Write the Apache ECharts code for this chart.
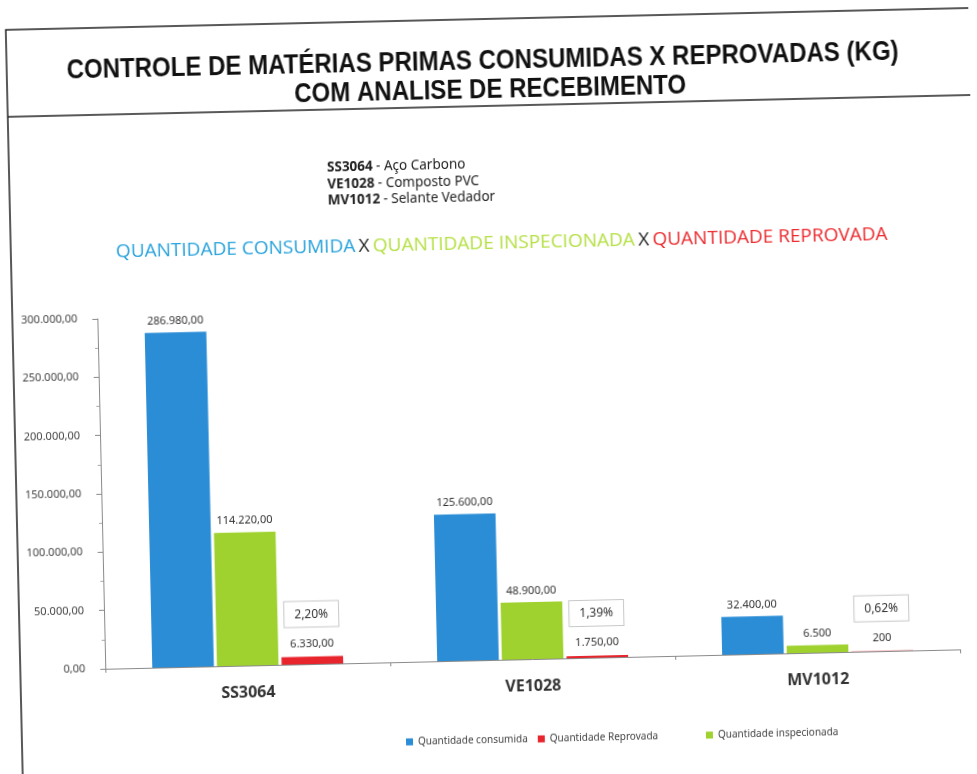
<!DOCTYPE html>
<html><head><meta charset="utf-8">
<script src="https://cdn.jsdelivr.net/npm/echarts@6/dist/echarts.min.js"></script>
<style>html,body{margin:0;padding:0;background:#fff;overflow:hidden}
#c{width:977px;height:774px;transform:rotate(-1.3deg);transform-origin:50% 50%;}
</style></head><body><div id="c"></div>
<script>
const categories = ['SS3064', 'VE1028', 'MV1012'];
const consumida = [286980, 125600, 32400];
const inspecionada = [114220, 48900, 6500];
const reprovada = [6330, 1750, 200];
const percentReprovada = ['2,20%', '1,39%', '0,62%'];
const semDecimais = [false, false, true];
const materiais = [['SS3064', 'Aço Carbono'], ['VE1028', 'Composto PVC'], ['MV1012', 'Selante Vedador']];
const seriesNames = ['Quantidade consumida', 'Quantidade inspecionada', 'Quantidade Reprovada'];

function fmt(v, dec) {
  const s = String(Math.round(v)).replace(/\B(?=(\d{3})+(?!\d))/g, '.');
  return dec ? s + ',00' : s;
}

const BLUE = '#2b8dd6', GREEN = '#9fd22e', RED = '#e8242c';
const chart = echarts.init(document.getElementById('c'), null, {renderer: 'canvas'});
const lblFont = 'Noto Sans';
const legendText = {fontSize: 10, color: '#444', fontFamily: lblFont};

chart.setOption({
  backgroundColor: '#fff',
  animation: false,
  grid: {left: 99, right: 23, top: 310, bottom: 114},
  legend: [
    {data: [seriesNames[0], seriesNames[2]], bottom: 24, left: 393, itemWidth: 7, itemHeight: 7,
     itemGap: 10, icon: 'rect', textStyle: legendText},
    {data: [seriesNames[1]], bottom: 24, left: 693, itemWidth: 7, itemHeight: 7,
     icon: 'rect', textStyle: legendText}
  ],
  xAxis: {
    type: 'category', data: categories,
    axisLine: {lineStyle: {color: '#8a8a8a'}},
    axisTick: {show: true, length: 4, lineStyle: {color: '#8a8a8a'}},
    axisLabel: {fontSize: 16, fontWeight: 'bold', color: '#333', margin: 19, fontFamily: lblFont}
  },
  yAxis: {
    type: 'value', min: 0, max: 300000, interval: 50000,
    axisLine: {show: true, lineStyle: {color: '#8a8a8a'}},
    axisTick: {show: true, length: 5, lineStyle: {color: '#8a8a8a'}},
    minorTick: {show: true, splitNumber: 2, length: 3, lineStyle: {color: '#aaa'}},
    splitLine: {show: false},
    axisLabel: {fontSize: 11, color: '#444', margin: 20, fontFamily: lblFont,
      formatter: v => fmt(v, true)}
  },
  series: [
    {name: seriesNames[0], type: 'bar', data: consumida, barGap: '5%', barCategoryGap: '33%',
     itemStyle: {color: BLUE},
     label: {show: true, position: 'top', distance: 6, fontSize: 11, color: '#333', fontFamily: lblFont,
       formatter: p => fmt(p.value, true)}},
    {name: seriesNames[1], type: 'bar', data: inspecionada, barGap: '5%', barCategoryGap: '33%',
     itemStyle: {color: GREEN},
     label: {show: true, position: 'top', distance: 6, fontSize: 11, color: '#333', fontFamily: lblFont,
       formatter: p => fmt(p.value, !semDecimais[p.dataIndex])}},
    {name: seriesNames[2], type: 'bar', data: reprovada, barGap: '5%', barCategoryGap: '33%',
     itemStyle: {color: RED},
     label: {show: true, position: 'top', distance: 6, fontFamily: lblFont,
       formatter: p => '{p|' + percentReprovada[p.dataIndex] + '}\n{v|' + fmt(p.value, !semDecimais[p.dataIndex]) + '}',
       rich: {
         p: {fontSize: 12, color: '#333', borderColor: '#c8c8c8', borderWidth: 1, backgroundColor: '#fff',
             padding: [7, 10, 6, 10], fontFamily: lblFont},
         v: {fontSize: 11, color: '#333', lineHeight: 24, padding: [10, 0, 0, 0], fontFamily: lblFont}
       }}}
  ],
  graphic: [
    {type: 'rect', shape: {x: 14, y: 19, width: 1100, height: 900},
     style: {fill: 'none', stroke: '#222', lineWidth: 1.5}, z: -1},
    {type: 'line', shape: {x1: 14, y1: 106, x2: 1100, y2: 106}, style: {stroke: '#222', lineWidth: 1.5}},
    {type: 'text', x: 490, y: 62, scaleX: 0.89, style: {text: 'CONTROLE DE MATÉRIAS PRIMAS CONSUMIDAS X REPROVADAS (KG)',
      fontSize: 27, fontWeight: 'bold', fontFamily: '"Liberation Sans", Arial',
      fill: '#111', align: 'center', verticalAlign: 'middle'}},
    {type: 'text', x: 497, y: 91, scaleX: 0.89, style: {text: 'COM ANALISE DE RECEBIMENTO',
      fontSize: 27, fontWeight: 'bold', fontFamily: '"Liberation Sans", Arial',
      fill: '#111', align: 'center', verticalAlign: 'middle'}},
    {type: 'text', x: 332, y: 156, style: {
      text: materiais.map(m => '{b|' + m[0] + '} {n|- ' + m[1] + '}').join('\n'),
      rich: {b: {fontSize: 13.5, fontWeight: 'bold', fill: '#222', lineHeight: 16.5, fontFamily: lblFont},
             n: {fontSize: 13.5, fill: '#222', lineHeight: 16.5, fontFamily: lblFont}}}},
    {type: 'text', x: 505, y: 244, style: {
      text: '{c|QUANTIDADE CONSUMIDA} {x|X} {i|QUANTIDADE INSPECIONADA} {x|X} {r|QUANTIDADE REPROVADA}',
      align: 'center', verticalAlign: 'middle',
      rich: {c: {fontSize: 19, fill: '#27a2dc', fontFamily: 'Open Sans'},
             x: {fontSize: 19, fill: '#222', fontFamily: 'Open Sans'},
             i: {fontSize: 19, fill: '#b5e045', fontFamily: 'Open Sans'},
             r: {fontSize: 19, fill: '#ec2a2e', fontFamily: 'Open Sans'}}}}
  ]
});
</script></body></html>
